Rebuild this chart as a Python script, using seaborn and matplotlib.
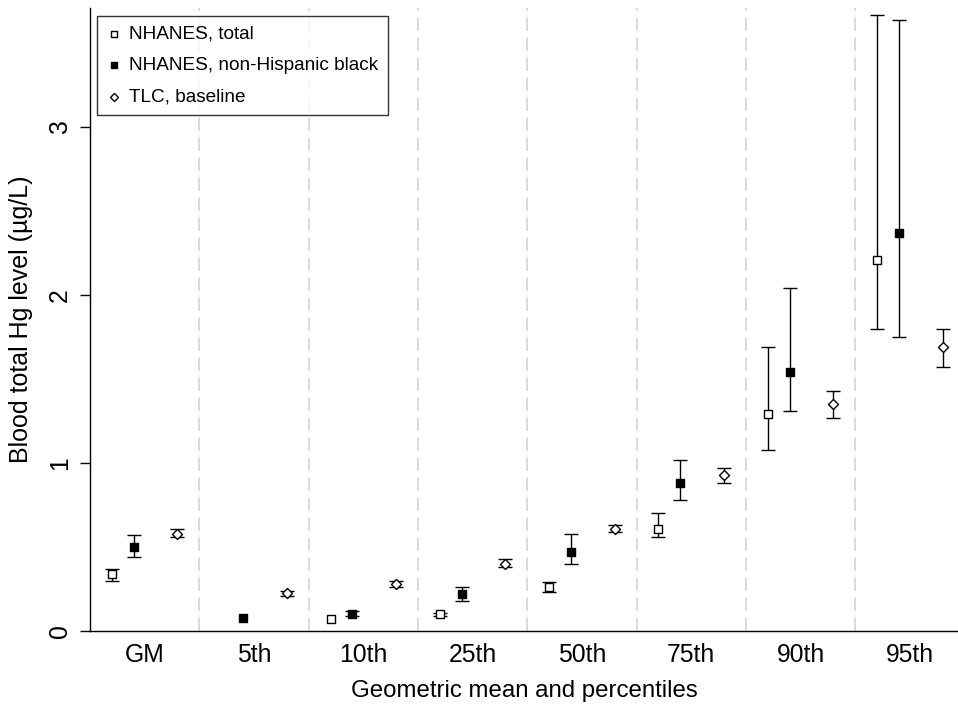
import numpy as np
import pandas as pd
import matplotlib
matplotlib.use('Agg')
import matplotlib.pyplot as plt
import seaborn as sns

categories = ['GM', '5th', '10th', '25th', '50th', '75th', '90th', '95th']

# NHANES, total
total_val = [0.34, np.nan, 0.07, 0.10, 0.26, 0.61, 1.29, 2.21]
total_lo = [0.30, np.nan, np.nan, 0.09, 0.23, 0.56, 1.08, 1.80]
total_hi = [0.37, np.nan, np.nan, 0.11, 0.29, 0.70, 1.69, 3.67]

# NHANES, non-Hispanic black
black_val = [0.50, 0.08, 0.10, 0.22, 0.47, 0.88, 1.54, 2.37]
black_lo = [0.44, np.nan, 0.09, 0.18, 0.40, 0.78, 1.31, 1.75]
black_hi = [0.57, np.nan, 0.12, 0.26, 0.58, 1.02, 2.04, 3.64]

# TLC, baseline
tlc_val = [0.58, 0.225, 0.28, 0.40, 0.61, 0.93, 1.35, 1.69]
tlc_lo = [0.56, 0.21, 0.26, 0.38, 0.59, 0.88, 1.27, 1.57]
tlc_hi = [0.61, 0.24, 0.30, 0.43, 0.63, 0.97, 1.43, 1.80]

sns.set_style('ticks')
plt.rcParams['font.family'] = ['Liberation Sans', 'DejaVu Sans']
plt.rcParams['text.color'] = 'black'
plt.rcParams['axes.labelcolor'] = 'black'
plt.rcParams['xtick.color'] = 'black'
plt.rcParams['ytick.color'] = 'black'

fig = plt.figure(figsize=(9.58, 7.09), dpi=100)
ax = fig.add_axes([90 / 958, 78 / 709, 1 - 90 / 958, (631 - 8) / 709])

series = [
    ('NHANES, total', total_val, total_lo, total_hi, -0.30, 's', 'white', 34),
    ('NHANES, non-Hispanic black', black_val, black_lo, black_hi, -0.10, 's', 'black', 34),
    ('TLC, baseline', tlc_val, tlc_lo, tlc_hi, 0.30, 'D', 'white', 26),
]

x = np.arange(len(categories))

# divider lines between groups
for d in np.arange(0.5, len(categories) - 0.5, 1):
    ax.axvline(d, color='#d4d4d4', lw=1.2, ls=(0, (8, 4)), zorder=0)

for name, val, lo, hi, off, mk, fc, sz in series:
    df = pd.DataFrame({'x': x + off, 'val': val, 'lo': lo, 'hi': hi})
    err = np.vstack([df['val'] - df['lo'], df['hi'] - df['val']])
    ax.errorbar(df['x'], df['val'], yerr=err, fmt='none', ecolor='black',
                elinewidth=1.0, capsize=5.3, capthick=1.0, zorder=2)
    sns.scatterplot(data=df, x='x', y='val', marker=mk, s=sz, color=fc,
                    edgecolor='black', linewidth=1.0, ax=ax, zorder=3, label=name)

ax.set_xlim(-0.5, 7.44)
ax.set_ylim(0, 3.71)
ax.set_xticks(x)
ax.set_xticklabels(categories)
ax.set_yticks([0, 1, 2, 3])
ax.set_yticklabels(['0', '1', '2', '3'], rotation=90, va='center')
ax.tick_params(axis='x', length=0, labelsize=17.8, pad=9)
ax.tick_params(axis='y', length=7, width=1, labelsize=17.8, pad=6)
ax.set_xlabel('Geometric mean and percentiles', fontsize=17.3, labelpad=9)
ax.set_ylabel('Blood total Hg level (µg/L)', fontsize=18, labelpad=11)
sns.despine(ax=ax)
for sp in ['left', 'bottom']:
    ax.spines[sp].set_linewidth(1.0)
    ax.spines[sp].set_color('black')

leg = ax.legend(loc='upper left', bbox_to_anchor=(0.008, 0.987), fontsize=13.7,
                frameon=True, fancybox=False, edgecolor='black', borderaxespad=0,
                handletextpad=0.4, borderpad=0.5, labelspacing=0.74,
                handlelength=0.8, markerscale=0.8)
leg.get_frame().set_linewidth(1.0)

fig.savefig('out.png', dpi=100)
